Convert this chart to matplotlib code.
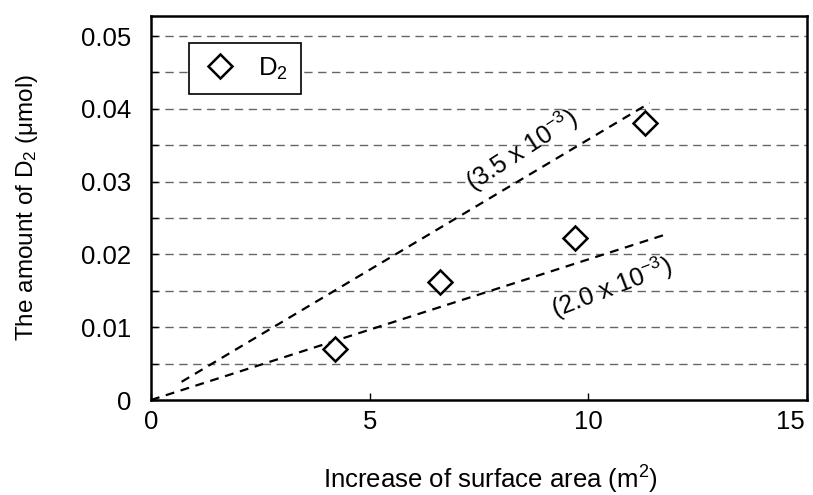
import numpy as np
import matplotlib
matplotlib.use('Agg')
import matplotlib.pyplot as plt
from matplotlib.transforms import ScaledTranslation

# measured points
area = [4.2, 6.6, 9.7, 11.3]
d2_amount = [0.0070, 0.0162, 0.0223, 0.0380]

# fitted guide lines (slopes 3.5e-3 and 2.0e-3)
upper_x = [0.7, 11.4]
upper_y = [0.0025, 0.0408]
lower_x = [0.0, 11.8]
lower_y = [0.0, 0.0228]

xticks = [0, 5, 10, 15]
yticks = [0, 0.01, 0.02, 0.03, 0.04, 0.05]
ytick_labels = ['0', '0.01', '0.02', '0.03', '0.04', '0.05']
grid_levels = [0.005, 0.01, 0.015, 0.02, 0.025, 0.03, 0.035, 0.04, 0.045, 0.05]

plt.rcParams['font.family'] = ['Liberation Sans', 'DejaVu Sans']
plt.rcParams['mathtext.fontset'] = 'custom'
plt.rcParams['mathtext.rm'] = 'Liberation Sans'
plt.rcParams['mathtext.it'] = 'Liberation Sans:italic'
plt.rcParams['mathtext.default'] = 'rm'

FS = 18.5


def main():
    fig = plt.figure(figsize=(8.13, 4.95), dpi=100)
    ax = fig.add_axes([0.1857, 0.1919, 0.8069, 0.7764])

    for g in grid_levels:
        ax.axhline(g, color='#666666', lw=1.0, ls=(0, (6, 4)), zorder=1)

    ax.plot(upper_x, upper_y, color='black', lw=1.6, ls=(0, (4, 3)), zorder=2)
    ax.plot(lower_x, lower_y, color='black', lw=1.6, ls=(0, (4, 3)), zorder=2)

    ax.plot(area, d2_amount, ls='none', marker='D', ms=12, mfc='white',
            mec='black', mew=1.8, zorder=3, label='D$_2$')

    ax.text(8.48, 0.0343, '(3.5 x 10$^{-3}$)', rotation=33, fontsize=18,
            ha='center', va='center', rotation_mode='anchor')
    ax.text(10.54, 0.0155, '(2.0 x 10$^{-3}$)', rotation=21, fontsize=18,
            ha='center', va='center', rotation_mode='anchor')

    ax.set_xlim(0, 15)
    ax.set_ylim(0, 0.0528)
    ax.set_xticks(xticks)
    ax.set_yticks(yticks)
    ax.set_yticks(grid_levels[::2], minor=True)
    ax.set_yticklabels(ytick_labels)
    ax.tick_params(direction='in', length=5, width=1, labelsize=FS)
    ax.tick_params(axis='x', pad=7)
    ax.tick_params(axis='y', pad=14)
    ax.tick_params(axis='y', which='minor', direction='in', length=5, width=1)
    for s in ax.spines.values():
        s.set_linewidth(1.8)

    # last x label sits inside the figure edge
    last = ax.get_xticklabels()[-1]
    last.set_transform(last.get_transform() + ScaledTranslation(-12 / 72, 0, fig.dpi_scale_trans))

    ax.set_xlabel('Increase of surface area (m$^2$)', fontsize=FS, labelpad=22)
    ax.xaxis.label.set_x(0.517)
    ax.set_ylabel('The amount of D$_2$ (\u03bcmol)', fontsize=17.5, labelpad=30)

    leg = ax.legend(loc='upper left', bbox_to_anchor=(0.058, 0.93), fontsize=FS,
                    frameon=True, fancybox=False, edgecolor='black',
                    borderpad=0.5, handletextpad=0.8, handlelength=1.4,
                    borderaxespad=0)
    leg.get_frame().set_linewidth(1.2)
    leg.get_frame().set_alpha(1)

    fig.savefig('out.png', dpi=100)


if __name__ == '__main__':
    main()
